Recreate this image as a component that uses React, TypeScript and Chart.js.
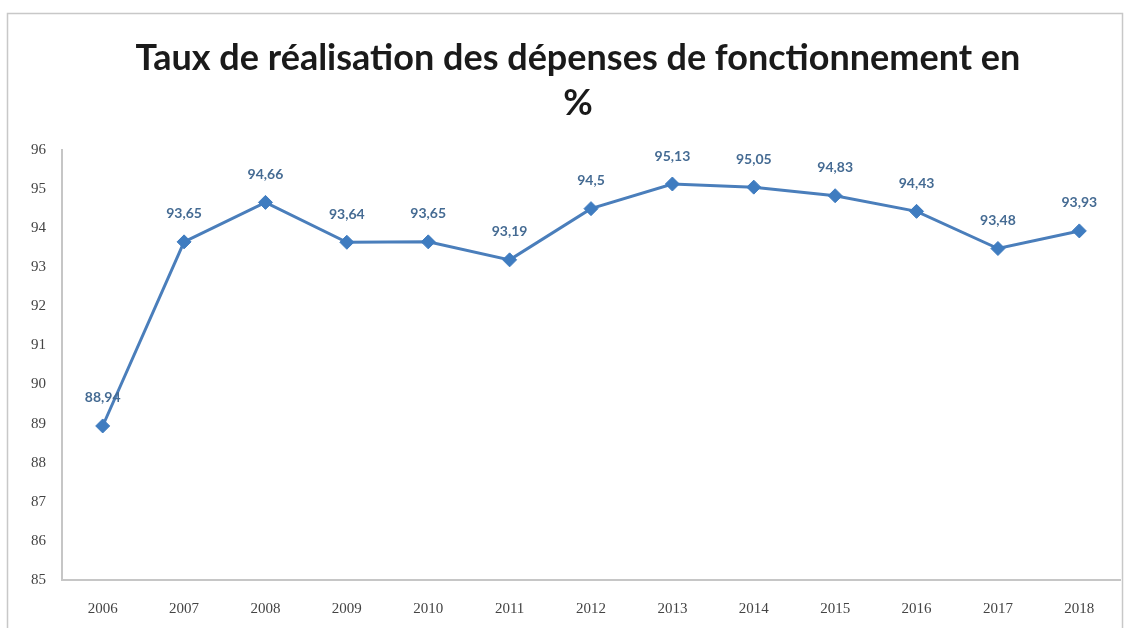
import React, { useEffect, useRef } from "react";
import { Chart, registerables } from "chart.js";

Chart.register(...registerables);

const TITLE_LINES = ["Taux de réalisation des dépenses de fonctionnement en", "%"];
const YEARS = ["2006", "2007", "2008", "2009", "2010", "2011", "2012", "2013", "2014", "2015", "2016", "2017", "2018"];
const RATES = [88.94, 93.65, 94.66, 93.64, 93.65, 93.19, 94.5, 95.13, 95.05, 94.83, 94.43, 93.48, 93.93];
const RATE_LABELS = ["88,94", "93,65", "94,66", "93,64", "93,65", "93,19", "94,5", "95,13", "95,05", "94,83", "94,43", "93,48", "93,93"];
const Y_MIN = 85;
const Y_MAX = 96;

const LINE_COLOR = "#4a7ebb";
const LABEL_COLOR = "#456b93";

const framePlugin = {
  id: "frame",
  beforeDraw(chart: any) {
    const ctx = chart.ctx;
    ctx.save();
    ctx.fillStyle = "#ffffff";
    ctx.fillRect(0, 0, chart.width, chart.height);
    ctx.strokeStyle = "#c8c8c8";
    ctx.lineWidth = 1.5;
    ctx.strokeRect(7.5, 13.5, 1115, 640);
    // title
    ctx.fillStyle = "#1a1a1a";
    ctx.font = "bold 36px Lato, 'Open Sans', sans-serif";
    ctx.textAlign = "center";
    ctx.textBaseline = "middle";
    const cx = 578;
    TITLE_LINES.forEach((line, i) => {
      ctx.fillText(line, cx, 58 + i * 45);
    });
    ctx.restore();
  },
};

const labelPlugin = {
  id: "pointLabels",
  afterDatasetsDraw(chart: any) {
    const ctx = chart.ctx;
    const meta = chart.getDatasetMeta(0);
    ctx.save();
    ctx.font = "bold 14px Lato, 'Open Sans', sans-serif";
    ctx.fillStyle = LABEL_COLOR;
    ctx.textAlign = "center";
    ctx.textBaseline = "middle";
    meta.data.forEach((pt: any, i: number) => {
      ctx.fillText(RATE_LABELS[i], pt.x, pt.y - 28);
    });
    ctx.restore();
  },
};

export default function App() {
  const ref = useRef<HTMLCanvasElement>(null);
  useEffect(() => {
    if (!ref.current) return;
    const chart = new Chart(ref.current, {
      type: "line",
      data: {
        labels: YEARS,
        datasets: [
          {
            data: RATES,
            borderColor: LINE_COLOR,
            backgroundColor: "#3f7cc0",
            borderWidth: 3,
            pointStyle: "rectRot",
            pointRadius: 7,
            pointBorderWidth: 1,
            pointBorderColor: "#3f7cc0",
            tension: 0,
          },
        ],
      },
      options: {
        animation: false,
        responsive: false,
        maintainAspectRatio: false,
        layout: { padding: { left: 10, right: 13, top: 150, bottom: 0 } },
        plugins: {
          legend: { display: false },
          tooltip: { enabled: false },
          title: { display: false },
        },
        scales: {
          x: {
            type: "category",
            offset: true,
            grid: { display: false, drawTicks: false },
            border: { display: true, color: "#c6c6c6", width: 2 },
            ticks: { color: "#444444", padding: 20, font: { family: "'Liberation Serif', serif", size: 15 } },
            afterFit(scale: any) {
              scale.height = 48;
            },
          },
          y: {
            min: Y_MIN,
            max: Y_MAX,
            grid: { display: false, drawTicks: false },
            border: { display: true, color: "#c6c6c6", width: 2 },
            ticks: { stepSize: 1, color: "#444444", padding: 16, font: { family: "'Liberation Serif', serif", size: 15 } },
            afterFit(scale: any) {
              scale.width = 52;
            },
          },
        },
      },
      plugins: [framePlugin, labelPlugin],
    });
    return () => chart.destroy();
  }, []);
  return (
    <div style={{ position: "fixed", left: 0, top: 0, width: 1133, height: 628 }}>
      <canvas ref={ref} width={1133} height={628} style={{ width: 1133, height: 628, display: "block" }} />
    </div>
  );
}
